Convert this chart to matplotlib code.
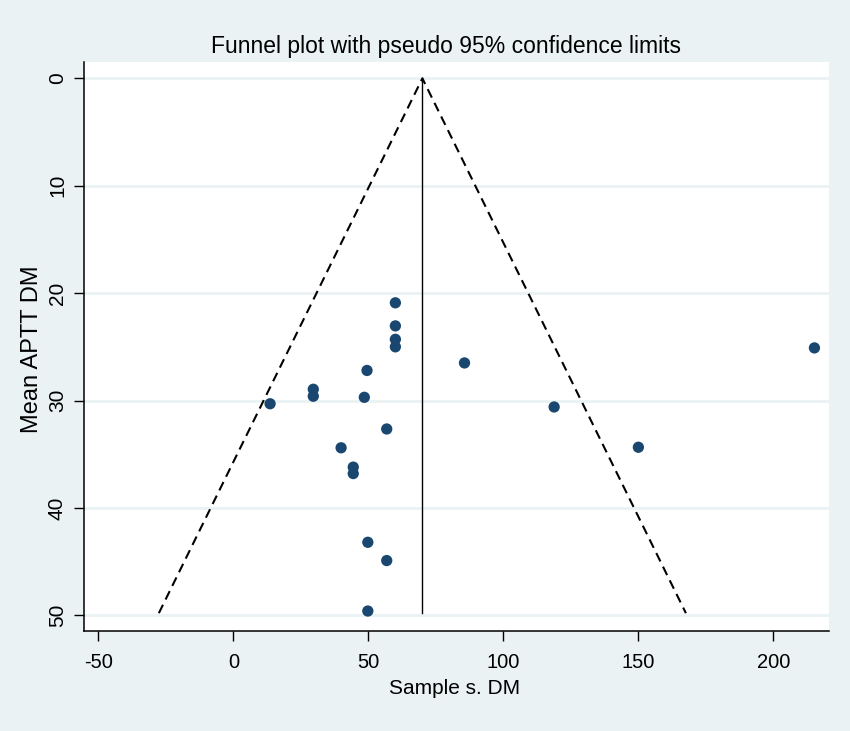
import matplotlib
matplotlib.use("Agg")
import matplotlib.pyplot as plt
import numpy as np

plt.rcParams['font.family'] = ['Liberation Sans', 'DejaVu Sans']

# Data: sample size (x) vs mean APTT (y)
sample_size = [60, 60, 60, 60, 49.5, 85.6, 215.2, 29.6, 29.6, 48.5, 13.6, 118.8,
               56.8, 39.9, 150.0, 44.4, 44.4, 49.8, 56.8, 49.8]
mean_aptt = [20.9, 23.05, 24.3, 25.0, 27.2, 26.5, 25.1, 28.95, 29.6, 29.7, 30.3, 30.6,
             32.65, 34.4, 34.35, 36.2, 36.8, 43.2, 44.9, 49.6]

center = 70.0
y_max = 49.8
half_width_at_max = 97.6

x_ticks = [-50, 0, 50, 100, 150, 200]
y_ticks = [0, 10, 20, 30, 40, 50]

bg = '#eaf2f3'
navy = '#1a476f'

fig = plt.figure(figsize=(8.5, 7.31), dpi=100, facecolor=bg)
ax = fig.add_axes([0.0992, 0.1368, 0.8761, 0.7788])
ax.set_facecolor('white')

ax.set_xlim(-55.2, 220.6)
ax.set_ylim(51.46, -1.55)

for t in y_ticks:
    ax.axhline(t, color=bg, lw=2.0, zorder=0)

# funnel lines
ax.plot([center - half_width_at_max, center, center + half_width_at_max],
        [y_max, 0, y_max], color='black', lw=1.5, ls=(0, (4.5, 2.8)), zorder=2)
ax.plot([center, center], [0, y_max], color='black', lw=1.0, zorder=2)

ax.scatter(sample_size, mean_aptt, s=66, color=navy, edgecolors='none', zorder=3)

for s in ['top', 'right']:
    ax.spines[s].set_visible(False)
for s in ['left', 'bottom']:
    ax.spines[s].set_linewidth(1.1)

ax.set_xticks(x_ticks)
ax.set_yticks(y_ticks)
ax.tick_params(axis='both', direction='out', length=7.5, width=1.0, colors='black')
ax.tick_params(axis='x', pad=8, labelsize=14.5)
ax.tick_params(axis='y', pad=5, labelsize=15)
ax.set_xticklabels([str(v) for v in x_ticks])
ax.set_yticklabels([str(v) for v in y_ticks], rotation=90, va='center')

fig.text(446/850, 1 - 52.7/731, 'Funnel plot with pseudo 95% confidence limits',
         ha='center', va='baseline', fontsize=16.5, color='black')
fig.text(455/850, 1 - 694/731, 'Sample s. DM', ha='center', va='baseline', fontsize=15)
fig.text(32/850, 1 - 349/731, 'Mean APTT DM', ha='center', va='center', rotation=90, fontsize=17)

fig.savefig('out.png', dpi=100, facecolor=bg)
